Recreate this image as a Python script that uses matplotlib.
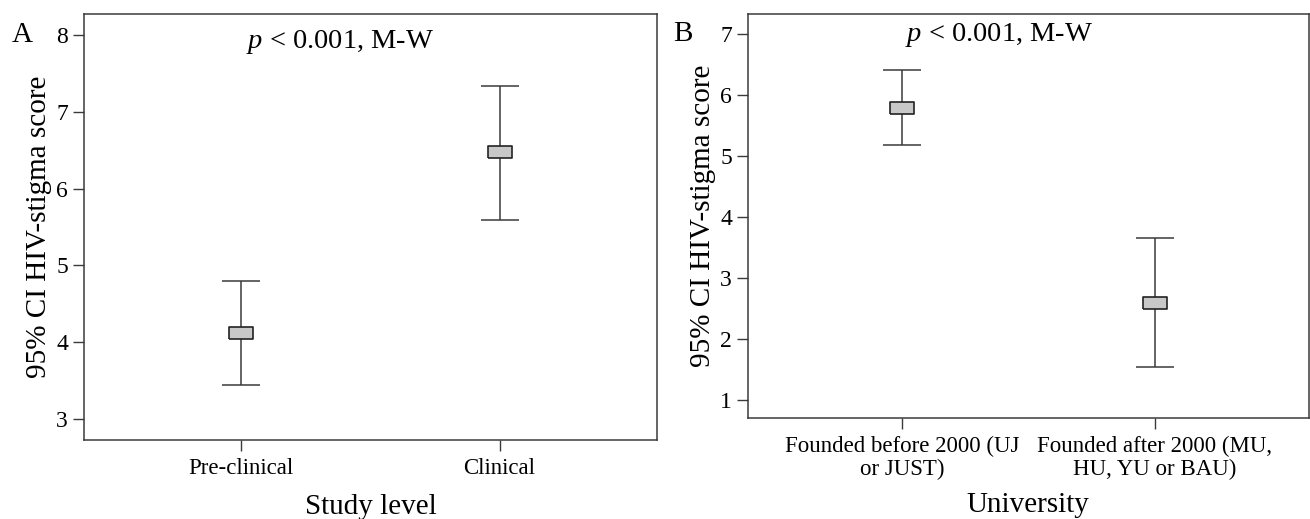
import numpy as np
import matplotlib.pyplot as plt

plt.rcParams['font.family'] = ['Liberation Serif', 'DejaVu Serif']
plt.rcParams['mathtext.fontset'] = 'custom'
plt.rcParams['mathtext.it'] = 'Liberation Serif:italic'

# panel A: study level
study_levels = ["Pre-clinical", "Clinical"]
study_mean = [4.12, 6.47]
study_low = [3.44, 5.59]
study_high = [4.80, 7.33]

# panel B: university
universities = ["Founded before 2000 (UJ\nor JUST)", "Founded after 2000 (MU,\nHU, YU or BAU)"]
uni_mean = [5.79, 2.59]
uni_low = [5.18, 1.54]
uni_high = [6.41, 3.65]

box = [(-1, -0.53), (1, -0.53), (1, 0.53), (-1, 0.53), (-1, -0.53)]
edge = '#3a3a3a'


def ci_panel(ax, cats, mean, low, high, ylim, yticks, xlabel, letter, pos_p, xpad):
    x = np.arange(len(cats))
    mean = np.array(mean)
    yerr = [mean - np.array(low), np.array(high) - mean]
    ax.errorbar(x, mean, yerr=yerr, fmt='none', ecolor=edge, elinewidth=1.1,
                capsize=13.5, capthick=1.1, zorder=2)
    ax.plot(x, mean, linestyle='none', marker=box, markersize=17,
            markerfacecolor='#c8c8c8', markeredgecolor='#222222',
            markeredgewidth=1.2, zorder=3)
    ax.set_xlim(-0.61, 1.61)
    ax.set_ylim(*ylim)
    ax.set_yticks(yticks)
    ax.set_xticks(x)
    ax.set_xticklabels(cats, fontsize=16.5, linespacing=1.1)
    ax.tick_params(axis='both', direction='out', length=8, width=1.0,
                   color=edge, labelsize=17)
    ax.tick_params(axis='x', labelsize=16.5, pad=5)
    for s in ax.spines.values():
        s.set_color(edge)
        s.set_linewidth(1.1)
    ax.set_ylabel("95% CI HIV-stigma score", fontsize=21, labelpad=3)
    ax.set_xlabel(xlabel, fontsize=21, labelpad=xpad)
    ax.text(pos_p[0], pos_p[1], r"$p$ < 0.001, M-W", transform=ax.transAxes,
            ha='center', va='center', fontsize=20.5)
    ax.text(letter[1], 0.95, letter[0], transform=ax.transAxes, ha='center',
            va='center', fontsize=21)


fig = plt.figure(figsize=(13.1, 5.19), dpi=100)
axA = fig.add_axes([0.0641, 0.1522, 0.4374, 0.8208])
axB = fig.add_axes([0.571, 0.1946, 0.428, 0.7784])

ci_panel(axA, study_levels, study_mean, study_low, study_high,
         (2.73, 8.27), [3, 4, 5, 6, 7, 8], "Study level", ("A", -0.107),
         (0.447, 0.934), 11)
ci_panel(axB, universities, uni_mean, uni_low, uni_high,
         (0.70, 7.33), [1, 2, 3, 4, 5, 6, 7], "University", ("B", -0.117),
         (0.448, 0.948), 9)

fig.savefig("out.png", dpi=100)
